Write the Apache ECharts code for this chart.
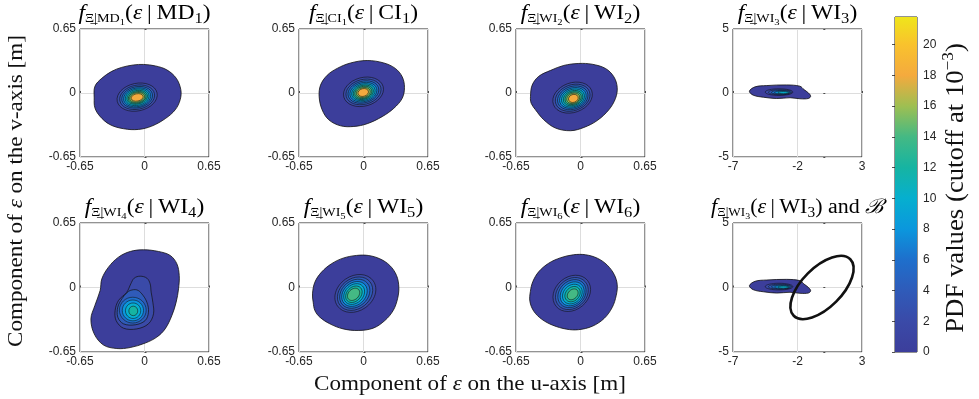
<!DOCTYPE html>
<html>
<head>
<meta charset="utf-8">
<script src="https://cdn.jsdelivr.net/npm/echarts@6/dist/echarts.min.js"></script>
<style>
  html, body { margin: 0; padding: 0; background: #fff; }
  #chart { width: 979px; height: 399px; }
</style>
</head>
<body>
<div id="chart"></div>
<script>
// ---- colour scale of the PDF values (x 10^-3) ----
const cbarLevels = [0, 2, 4, 6, 8, 10, 12, 14, 16, 18, 20, 21.8];
const cbarColours = ['#3c3e9b', '#3a4aa8', '#2f5bb9', '#1e6fcc', '#0b97dd', '#06afcf',
                     '#16b4a2', '#44b984', '#9ebf52', '#f4aa3e', '#f9c22d', '#efe51b'];
const cbarTicks = [0, 2, 4, 6, 8, 10, 12, 14, 16, 18, 20];
const cbarMax = 21.8;

// ---- axis ranges and ticks ----
const smallRange = [-0.65, 0.65];
const smallTicks = [-0.65, 0, 0.65];
const wideURange = [-7, 3];
const wideUTicks = [-7, -2, 3];
const wideVRange = [-5, 5];
const wideVTicks = [-5, 0, 5];

// ---- cutoff contours [u, v] (m) and inner contours [level, cu, cv, a, b, angleDeg] ----
const md1Outline = [[-0.507,-0.05],[-0.50,0.067],[-0.43,0.15],[-0.33,0.22],[-0.23,0.26],[-0.11,0.285],
  [-0.01,0.29],[0.11,0.275],[0.225,0.235],[0.32,0.15],[0.366,0.034],[0.36,-0.067],[0.31,-0.17],
  [0.21,-0.26],[0.074,-0.336],[-0.06,-0.37],[-0.21,-0.363],[-0.35,-0.32],[-0.45,-0.235],[-0.50,-0.15]];
const md1Rings = [[2,-0.074,-0.042,0.205,0.140,12],[4,-0.074,-0.043,0.178,0.122,12],
  [6,-0.074,-0.043,0.157,0.107,12],[8,-0.074,-0.044,0.138,0.094,12],[10,-0.074,-0.044,0.121,0.082,12],
  [12,-0.074,-0.044,0.105,0.069,12],[14,-0.074,-0.045,0.090,0.058,12],[16,-0.074,-0.045,0.076,0.048,12],
  [18,-0.074,-0.045,0.061,0.037,12]];

const ci1Outline = [[-0.447,-0.037],[-0.433,0.08],[-0.366,0.18],[-0.265,0.25],[-0.13,0.305],[0.037,0.33],
  [0.205,0.305],[0.32,0.25],[0.39,0.165],[0.413,0.057],[0.39,-0.054],[0.306,-0.155],[0.188,-0.24],
  [0.037,-0.312],[-0.097,-0.34],[-0.232,-0.333],[-0.35,-0.272],[-0.417,-0.17]];
const ci1Rings = [[2,0.000,0.012,0.205,0.145,15],[4,0.000,0.011,0.180,0.126,15],
  [6,-0.001,0.010,0.158,0.110,15],[8,-0.001,0.009,0.138,0.096,15],[10,-0.001,0.008,0.120,0.083,15],
  [12,-0.002,0.007,0.103,0.071,15],[14,-0.002,0.006,0.087,0.060,15],[16,-0.002,0.005,0.071,0.049,15],
  [18,-0.003,0.005,0.054,0.039,15]];

const wi2Outline = [[-0.504,-0.037],[-0.487,0.08],[-0.42,0.17],[-0.30,0.23],[-0.168,0.28],[-0.017,0.30],
  [0.118,0.292],[0.252,0.249],[0.336,0.165],[0.37,0.057],[0.353,-0.054],[0.286,-0.17],[0.168,-0.28],
  [0.034,-0.35],[-0.10,-0.383],[-0.252,-0.356],[-0.37,-0.272],[-0.454,-0.17],[-0.497,-0.104]];
const wi2Rings = [[2,-0.080,-0.047,0.205,0.150,20],[4,-0.079,-0.048,0.180,0.131,20],
  [6,-0.078,-0.049,0.158,0.115,20],[8,-0.077,-0.050,0.138,0.100,20],[10,-0.076,-0.051,0.119,0.087,20],
  [12,-0.075,-0.052,0.101,0.074,20],[14,-0.074,-0.053,0.084,0.062,20],[16,-0.073,-0.054,0.067,0.051,20],
  [18,-0.072,-0.055,0.050,0.040,20]];

const wi3Outline = [[-5.73,0.14],[-5.29,0.48],[-4.39,0.58],[-2.84,0.63],[-1.81,0.53],[-1.5,0.27],
  [-1.16,0.01],[-0.98,-0.25],[-1.16,-0.43],[-1.81,-0.45],[-2.58,-0.37],[-3.61,-0.43],[-4.65,-0.33],
  [-5.43,-0.17]];
const wi3Rings = [[2,-3.43,0.07,1.07,0.26,0],[4,-3.35,0.06,0.90,0.20,0],[6,-3.28,0.05,0.74,0.15,0],
  [8,-3.20,0.04,0.58,0.11,0],[10,-3.10,0.03,0.42,0.08,0]];

const wi4Outline = [[-0.262,0.306],[-0.144,0.363],[-0.01,0.38],[0.141,0.363],[0.259,0.323],[0.326,0.239],
  [0.35,0.121],[0.343,-0.013],[0.319,-0.148],[0.276,-0.282],[0.208,-0.417],[0.124,-0.50],[0.007,-0.56],
  [-0.144,-0.605],[-0.279,-0.615],[-0.413,-0.58],[-0.507,-0.467],[-0.54,-0.316],[-0.50,-0.181],
  [-0.447,-0.03],[-0.43,0.087],[-0.363,0.205]];
const wi4Level2 = [[-0.044,0.114],[0.024,0.094],[0.057,0.037],[0.067,-0.047],[0.084,-0.148],[0.091,-0.265],
  [0.04,-0.366],[-0.077,-0.417],[-0.212,-0.41],[-0.286,-0.333],[-0.296,-0.232],[-0.262,-0.131],
  [-0.178,-0.047],[-0.138,0.037],[-0.104,0.094]];
const wi4Level4 = [[-0.144,-0.03],[-0.077,-0.024],[-0.027,-0.064],[0.024,-0.148],[0.04,-0.249],
  [0.007,-0.333],[-0.094,-0.376],[-0.212,-0.366],[-0.269,-0.299],[-0.269,-0.198],[-0.228,-0.114],
  [-0.178,-0.054]];
const wi4Rings = [[6,-0.118,-0.228,0.135,0.130,0],[8,-0.117,-0.231,0.107,0.105,0],
  [10,-0.115,-0.234,0.077,0.078,0],[12,-0.113,-0.236,0.045,0.048,0]];

const wi5Outline = [[-0.507,-0.148],[-0.514,-0.064],[-0.49,0.054],[-0.423,0.155],[-0.323,0.239],
  [-0.205,0.296],[-0.071,0.323],[0.047,0.323],[0.165,0.289],[0.265,0.222],[0.333,0.121],[0.356,0.003],
  [0.343,-0.114],[0.299,-0.232],[0.215,-0.333],[0.097,-0.41],[-0.054,-0.433],[-0.205,-0.417],
  [-0.339,-0.366],[-0.44,-0.299],[-0.49,-0.232]];
const wi5Rings = [[2,-0.082,-0.060,0.220,0.175,35],[4,-0.085,-0.062,0.192,0.152,38],
  [6,-0.088,-0.063,0.166,0.131,40],[8,-0.091,-0.065,0.141,0.111,42],[10,-0.094,-0.066,0.117,0.091,44],
  [12,-0.097,-0.068,0.094,0.071,45],[14,-0.100,-0.069,0.070,0.052,45]];

const wi6Outline = [[-0.51,-0.14],[-0.505,-0.04],[-0.48,0.06],[-0.42,0.16],[-0.32,0.245],[-0.2,0.3],
  [-0.07,0.33],[0.05,0.33],[0.17,0.295],[0.27,0.225],[0.34,0.13],[0.37,0.03],[0.36,-0.08],[0.32,-0.2],
  [0.24,-0.31],[0.12,-0.39],[-0.02,-0.425],[-0.14,-0.42],[-0.28,-0.38],[-0.39,-0.32],[-0.47,-0.24]];
const wi6Rings = [[2,-0.088,-0.059,0.205,0.165,40],[4,-0.087,-0.061,0.180,0.145,42],
  [6,-0.086,-0.062,0.156,0.126,44],[8,-0.084,-0.064,0.133,0.107,45],[10,-0.082,-0.066,0.109,0.088,45],
  [12,-0.080,-0.067,0.086,0.068,45],[14,-0.079,-0.069,0.062,0.046,45]];

// ellipse B: [cu, cv, a, b, angleDeg]
const setB = [-0.1, 0.0, 3.1, 1.55, 45];

// ---- panel titles ----
const U = 'Ξ\u0332';
const titles = [
  `{f|f}{s|${U}|MD}{ss|1}{m|(}{e|ε}{m|\u2009|\u2009MD}{sb|1}{m|)}`,
  `{f|f}{s|${U}|CI}{ss|1}{m|(}{e|ε}{m|\u2009|\u2009CI}{sb|1}{m|)}`,
  `{f|f}{s|${U}|WI}{ss|2}{m|(}{e|ε}{m|\u2009|\u2009WI}{sb|2}{m|)}`,
  `{f|f}{s|${U}|WI}{ss|3}{m|(}{e|ε}{m|\u2009|\u2009WI}{sb|3}{m|)}`,
  `{f|f}{s|${U}|WI}{ss|4}{m|(}{e|ε}{m|\u2009|\u2009WI}{sb|4}{m|)}`,
  `{f|f}{s|${U}|WI}{ss|5}{m|(}{e|ε}{m|\u2009|\u2009WI}{sb|5}{m|)}`,
  `{f|f}{s|${U}|WI}{ss|6}{m|(}{e|ε}{m|\u2009|\u2009WI}{sb|6}{m|)}`,
  `{f|f}{s|${U}|WI}{ss|3}{m|(}{e|ε}{m|\u2009|\u2009WI}{sb|3}{m|) and }{c|ℬ}`
];
const titleStretch = [1.18, 1.18, 1.18, 1.18, 1.18, 1.18, 1.18, 1.1];

// ---- layout ----
const colLeft = [80, 299, 516, 733];
const rowTop = [29, 223];
const rowHeight = [128, 129];
const panelWidth = 129;
const titleY = [14, 208];

const panels = [
  { col: 0, row: 0, wide: false, outline: md1Outline, extra: [], rings: md1Rings },
  { col: 1, row: 0, wide: false, outline: ci1Outline, extra: [], rings: ci1Rings },
  { col: 2, row: 0, wide: false, outline: wi2Outline, extra: [], rings: wi2Rings },
  { col: 3, row: 0, wide: true,  outline: wi3Outline, extra: [], rings: wi3Rings },
  { col: 0, row: 1, wide: false, outline: wi4Outline, extra: [[2, wi4Level2], [4, wi4Level4]], rings: wi4Rings },
  { col: 1, row: 1, wide: false, outline: wi5Outline, extra: [], rings: wi5Rings },
  { col: 2, row: 1, wide: false, outline: wi6Outline, extra: [], rings: wi6Rings },
  { col: 3, row: 1, wide: true,  outline: wi3Outline, extra: [], rings: wi3Rings, boundary: setB }
];

const sans = "'Liberation Sans', Arial, sans-serif";
const serif = "'Liberation Serif', 'DejaVu Serif', serif";
const tickColour = '#262626';

function colourAt(level) {
  for (let i = 1; i < cbarLevels.length; i++) {
    if (level <= cbarLevels[i]) {
      const t = (level - cbarLevels[i - 1]) / (cbarLevels[i] - cbarLevels[i - 1]);
      return echarts.color.lerp(t, [cbarColours[i - 1], cbarColours[i]]);
    }
  }
  return cbarColours[cbarColours.length - 1];
}

function buildShapes(p) {
  const shapes = [{ kind: 'poly', level: 0, pts: p.outline, lw: 0.8 }];
  p.extra.forEach(([level, pts]) => shapes.push({ kind: 'poly', level, pts, lw: 0.7 }));
  p.rings.forEach(([level, cu, cv, a, b, ang]) => shapes.push({ kind: 'ell', level, cu, cv, a, b, ang, lw: 0.55 }));
  if (p.boundary) {
    const [cu, cv, a, b, ang] = p.boundary;
    shapes.push({ kind: 'ell', level: null, cu, cv, a, b, ang, lw: 2.6 });
  }
  return shapes;
}

function drawShape(s, api, z2) {
  const style = { fill: s.level === null ? 'none' : colourAt(s.level), stroke: '#111', lineWidth: s.lw };
  if (s.kind === 'poly') {
    return { type: 'polygon', z2, shape: { points: s.pts.map(pt => api.coord(pt)), smooth: 0.35 }, style };
  }
  const c = api.coord([s.cu, s.cv]);
  const r = api.size([s.a, s.b]);
  return {
    type: 'ellipse', z2, x: c[0], y: c[1], rotation: s.ang * Math.PI / 180,
    shape: { cx: 0, cy: 0, rx: r[0], ry: r[1] }, style
  };
}

const grid = [], xAxis = [], yAxis = [], series = [], elements = [];
const labelStyle = { fontFamily: sans, fontSize: 12, color: tickColour };
const tickStyle = { show: true, inside: true, length: 2, lineStyle: { color: tickColour, width: 0.8 } };
const splitStyle = { show: true, lineStyle: { color: '#dddddd', width: 1 } };

panels.forEach((p, i) => {
  grid.push({
    left: colLeft[p.col], top: rowTop[p.row], width: panelWidth, height: rowHeight[p.row],
    show: true, backgroundColor: 'transparent', borderColor: tickColour, borderWidth: 1,
    outerBoundsMode: 'none'
  });
  if (p.wide) {
    xAxis.push({
      gridIndex: i, type: 'value', min: wideURange[0], max: wideURange[1],
      axisLine: { show: false },
      axisTick: Object.assign({ customValues: wideUTicks }, tickStyle),
      axisLabel: Object.assign({ customValues: wideUTicks, margin: 4 }, labelStyle),
      splitLine: splitStyle
    });
    yAxis.push({
      gridIndex: i, type: 'value', min: wideVRange[0], max: wideVRange[1], interval: wideVTicks[1] - wideVTicks[0],
      axisLine: { show: false }, axisTick: tickStyle,
      axisLabel: Object.assign({ margin: 4 }, labelStyle), splitLine: splitStyle
    });
  } else {
    xAxis.push({
      gridIndex: i, type: 'value', min: smallRange[0], max: smallRange[1], interval: smallTicks[1] - smallTicks[0],
      axisLine: { show: false }, axisTick: tickStyle,
      axisLabel: Object.assign({ margin: 4 }, labelStyle), splitLine: splitStyle
    });
    yAxis.push({
      gridIndex: i, type: 'value', min: smallRange[0], max: smallRange[1], interval: smallTicks[1] - smallTicks[0],
      axisLine: { show: false }, axisTick: tickStyle,
      axisLabel: Object.assign({ margin: 4 }, labelStyle), splitLine: splitStyle
    });
  }
  const shapes = buildShapes(p);
  series.push({
    type: 'custom', coordinateSystem: 'cartesian2d', xAxisIndex: i, yAxisIndex: i,
    silent: true, z: 2,
    data: shapes.map(s => s.kind === 'poly' ? [s.pts[0][0], s.pts[0][1], s.level ?? 0] : [s.cu, s.cv, s.level ?? 0]),
    renderItem: (params, api) => drawShape(shapes[params.dataIndex], api, params.dataIndex + 1)
  });
  elements.push({
    type: 'text', x: colLeft[p.col] + panelWidth / 2, y: titleY[p.row], scaleX: titleStretch[i],
    style: {
      text: titles[i], align: 'center', verticalAlign: 'middle', fill: '#000',
      rich: {
        f: { font: `italic 20px ${serif}`, fill: '#000' },
        s: { font: `12px ${serif}`, padding: [9, 0, 0, 0], fill: '#000' },
        ss: { font: `9px ${serif}`, padding: [17, 0, 0, 0], fill: '#000' },
        m: { font: `20px ${serif}`, fill: '#000' },
        e: { font: `italic 20px ${serif}`, fill: '#000' },
        sb: { font: `14px ${serif}`, padding: [10, 0, 0, 0], fill: '#000' },
        c: { font: `italic 20px ${serif}`, fill: '#000' }
      }
    }
  });
});

// ---- colour bar ----
const cbIndex = panels.length;
grid.push({ left: 895, top: 17, width: 22, height: 335, show: true, backgroundColor: 'transparent',
  borderColor: tickColour, borderWidth: 1, outerBoundsMode: 'none' });
xAxis.push({ gridIndex: cbIndex, type: 'value', min: 0, max: 1, show: false });
yAxis.push({
  gridIndex: cbIndex, type: 'value', position: 'right', min: 0, max: cbarMax,
  interval: cbarTicks[1] - cbarTicks[0],
  axisLine: { show: false },
  axisTick: { show: true, inside: true, length: 3, lineStyle: { color: tickColour, width: 0.8 } },
  axisLabel: Object.assign({ margin: 6, showMaxLabel: false }, labelStyle),
  splitLine: { show: false }
});
series.push({
  type: 'custom', coordinateSystem: 'cartesian2d', xAxisIndex: cbIndex, yAxisIndex: cbIndex,
  silent: true, z: 1, data: [[0, 0]],
  renderItem: (params, api) => {
    const lo = api.coord([0, 0]);
    const hi = api.coord([1, cbarMax]);
    const stops = cbarLevels.map((v, k) => ({ offset: v / cbarMax, color: cbarColours[k] }));
    return {
      type: 'rect',
      shape: { x: lo[0], y: hi[1], width: hi[0] - lo[0], height: lo[1] - hi[1] },
      style: { fill: new echarts.graphic.LinearGradient(0, 1, 0, 0, stops) }
    };
  }
});

// ---- shared axis titles ----
elements.push({
  type: 'text', x: 16, y: 191, rotation: Math.PI / 2, scaleX: 1.05,
  style: { text: '{m|Component of }{e|ε}{m| on the v-axis [m]}', align: 'center', verticalAlign: 'middle',
    rich: { m: { font: `22px ${serif}`, fill: '#111' }, e: { font: `italic 22px ${serif}`, fill: '#111' } } }
});
elements.push({
  type: 'text', x: 470, y: 384, scaleX: 1.05,
  style: { text: '{m|Component of }{e|ε}{m| on the u-axis [m]}', align: 'center', verticalAlign: 'middle',
    rich: { m: { font: `22px ${serif}`, fill: '#111' }, e: { font: `italic 22px ${serif}`, fill: '#111' } } }
});
elements.push({
  type: 'text', x: 956, y: 188, rotation: Math.PI / 2, scaleX: 1.07,
  style: { text: '{m|PDF values (cutoff at 10}{sp|\u22123}{m|)}', align: 'center', verticalAlign: 'middle',
    rich: { m: { font: `25px ${serif}`, fill: '#111' }, sp: { font: `16px ${serif}`, padding: [0, 0, 14, 0], fill: '#111' } } }
});

const chart = echarts.init(document.getElementById('chart'), null, { renderer: 'canvas' });
chart.setOption({
  animation: false,
  backgroundColor: '#ffffff',
  grid, xAxis, yAxis, series,
  graphic: { elements }
});
</script>
</body>
</html>
